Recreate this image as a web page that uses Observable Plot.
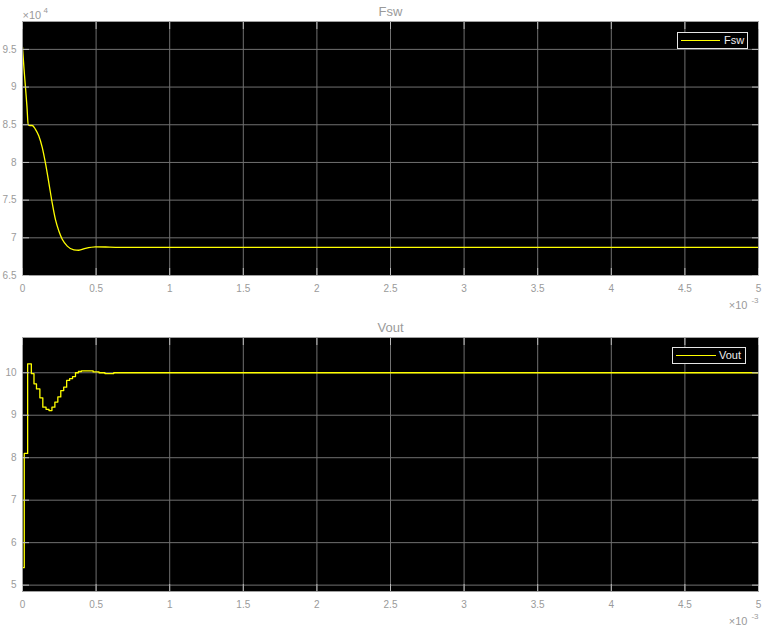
<!DOCTYPE html>
<html><head><meta charset="utf-8">
<script src="https://cdn.jsdelivr.net/npm/d3@7"></script>
<script src="https://cdn.jsdelivr.net/npm/@observablehq/plot@0.6"></script>
<style>
body{margin:0;background:#fff;font-family:"Liberation Sans",Arial,sans-serif;}
#wrap{position:relative;width:774px;height:634px;}
#wrap svg{display:block;}
.legend{position:absolute;background:#000;border:1px solid #e6e6e6;box-sizing:border-box;height:17px;color:#eee;font-size:11px;line-height:15px;}
.legend .ln{position:absolute;top:7px;height:1px;background:#ffff00;}
.legend span{position:absolute;top:0;}
</style>
</head><body>
<div id="wrap"></div>
<script>
// ---- data (time in units of 1e-3 s) ----
const timeTicks = [0, 0.5, 1, 1.5, 2, 2.5, 3, 3.5, 4, 4.5, 5];
const timeTickLabels = ["0", "0.5", "1", "1.5", "2", "2.5", "3", "3.5", "4", "4.5", "5"];

// Fsw in units of 1e4 Hz
const fswTicks = [6.5, 7, 7.5, 8, 8.5, 9, 9.5];
const fswTickLabels = ["6.5", "7", "7.5", "8", "8.5", "9", "9.5"];
const fswTime = [0, 0.01, 0.02, 0.03, 0.039, 0.051, 0.066, 0.088, 0.111, 0.134, 0.156, 0.179, 0.202, 0.224, 0.247, 0.27, 0.304, 0.349, 0.382, 0.428, 0.496, 0.564, 0.632, 0.8, 5];
const fswValue = [9.53, 9.25, 9.0, 8.75, 8.5, 8.49, 8.49, 8.44, 8.35, 8.2, 7.99, 7.73, 7.46, 7.24, 7.09, 6.98, 6.89, 6.84, 6.835, 6.86, 6.88, 6.878, 6.874, 6.874, 6.874];

// Vout in V
const voutTicks = [5, 6, 7, 8, 9, 10];
const voutTickLabels = ["5", "6", "7", "8", "9", "10"];
const voutTime = [0, 0.012, 0.035, 0.06, 0.078, 0.095, 0.118, 0.138, 0.16, 0.18, 0.2, 0.22, 0.24, 0.26, 0.28, 0.3, 0.32, 0.34, 0.36, 0.38, 0.4, 0.48, 0.52, 0.56, 0.62, 5];
const voutValue = [5.41, 8.1, 10.21, 9.98, 9.74, 9.62, 9.41, 9.19, 9.14, 9.11, 9.19, 9.31, 9.43, 9.58, 9.66, 9.82, 9.86, 9.91, 10.0, 10.03, 10.045, 10.02, 10.0, 9.98, 10.0, 10.0];

const titles = ["Fsw", "Vout"];

const FONT = '"Liberation Sans", Arial, sans-serif';
const GRID = "#707070";
const TXT = "#9a9a9a";

function panel({title, t, v, yDomain, yTicks, yLabels, yExp, curve, height, marginBottom}) {
  const data = t.map((x, i) => ({t: x, v: v[i]}));
  const xFmt = d => timeTickLabels[timeTicks.indexOf(d)];
  const yFmt = d => yLabels[yTicks.indexOf(d)];
  const marks = [
    Plot.frame({fill: "black"}),
    Plot.gridX(timeTicks, {stroke: GRID, strokeOpacity: 1}),
    Plot.gridY(yTicks, {stroke: GRID, strokeOpacity: 1}),
    Plot.line(data, {x: "t", y: "v", stroke: "#ffff00", strokeWidth: 1.3, curve, clip: true}),
    Plot.frame({stroke: "#a0a0a0"}),
    // inward ticks
    Plot.axisX(timeTicks, {anchor: "bottom", tickSize: 7, dy: -7, tickFormat: () => "", stroke: "#bbb", label: null}),
    Plot.axisX(timeTicks, {anchor: "top", tickSize: 7, dy: 7, tickFormat: () => "", stroke: "#bbb", label: null}),
    Plot.axisY(yTicks, {anchor: "left", tickSize: 7, dx: 7, tickFormat: () => "", stroke: "#bbb", label: null}),
    Plot.axisY(yTicks, {anchor: "right", tickSize: 7, dx: -7, tickFormat: () => "", stroke: "#bbb", label: null}),
    // labels
    Plot.axisX(timeTicks, {anchor: "bottom", tickSize: 0, tickPadding: 9, tickFormat: xFmt, fill: TXT, label: null}),
    Plot.axisY(yTicks, {anchor: "left", tickSize: 0, tickPadding: 6, tickFormat: yFmt, fill: TXT, label: null}),
    Plot.text([title], {text: d => d, frameAnchor: "top", lineAnchor: "middle", dy: -10, fill: TXT, fontSize: 13}),
    Plot.text(["\u00d710"], {text: d => d, frameAnchor: "bottom-right", lineAnchor: "middle", textAnchor: "end", dx: -11, dy: 30, fill: TXT, fontSize: 11}),
    Plot.text(["-3"], {text: d => d, frameAnchor: "bottom-right", lineAnchor: "middle", textAnchor: "end", dx: 0, dy: 25, fill: TXT, fontSize: 8})
  ];
  if (yExp) {
    marks.push(Plot.text(["\u00d710"], {text: d => d, frameAnchor: "top-left", lineAnchor: "middle", textAnchor: "start", dx: 0, dy: -6, fill: TXT, fontSize: 11}));
    marks.push(Plot.text([yExp], {text: d => d, frameAnchor: "top-left", lineAnchor: "middle", textAnchor: "start", dx: 21, dy: -11, fill: TXT, fontSize: 8}));
  }
  return Plot.plot({
    width: 774, height,
    marginLeft: 22, marginRight: 16, marginTop: 21, marginBottom,
    style: {fontFamily: FONT, fontSize: "10px", background: "transparent", color: TXT},
    x: {domain: [0, 5]},
    y: {domain: yDomain},
    marks
  });
}

const wrap = document.getElementById("wrap");
wrap.appendChild(panel({title: titles[0], t: fswTime, v: fswValue, yDomain: [6.5, 9.87], yTicks: fswTicks, yLabels: fswTickLabels, yExp: "4", curve: "monotone-x", height: 316, marginBottom: 41}));
wrap.appendChild(panel({title: titles[1], t: voutTime, v: voutValue, yDomain: [4.85, 10.83], yTicks: voutTicks, yLabels: voutTickLabels, yExp: null, curve: "step-after", height: 318, marginBottom: 43}));

function legend(name, left, top, width, lineX, lineW, textX) {
  const d = document.createElement("div");
  d.className = "legend";
  d.style.left = left + "px"; d.style.top = top + "px"; d.style.width = width + "px";
  const l = document.createElement("div"); l.className = "ln";
  l.style.left = lineX + "px"; l.style.width = lineW + "px";
  const s = document.createElement("span"); s.textContent = name; s.style.left = textX + "px";
  d.appendChild(l); d.appendChild(s);
  wrap.appendChild(d);
}
legend(titles[0], 677, 32, 71, 3, 39, 46);
legend(titles[1], 672, 347, 74, 3, 40, 46);
</script>
</body></html>
